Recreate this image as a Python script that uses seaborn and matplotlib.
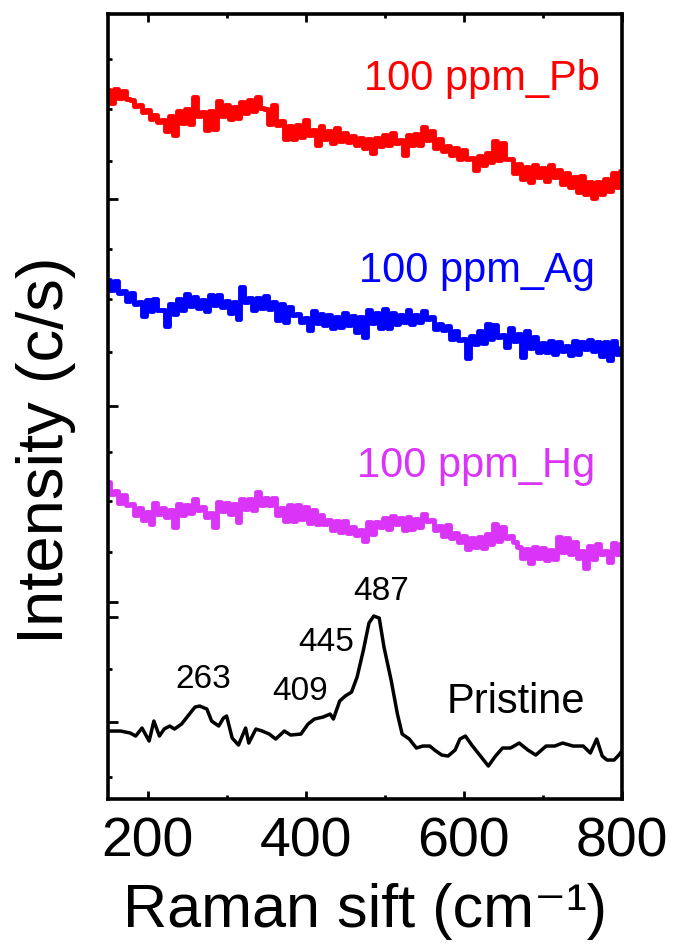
import numpy as np
import pandas as pd
import matplotlib
matplotlib.use("Agg")
import matplotlib.pyplot as plt
import seaborn as sns

# Raman shift grid (cm-1) for the three noisy spectra, 5 cm-1 step
shift = list(range(150, 801, 5))

# intensities (arbitrary c/s, stacked with offsets)
pb = [709, 696, 710, 701, 708, 700, 699, 693, 694, 687, 689, 680, 684, 677,
      679, 668, 683, 664, 688, 676, 690, 675, 702, 683, 687, 669, 688, 670,
      698, 683, 694, 680, 692, 681, 697, 686, 699, 688, 702, 691, 690, 675,
      694, 674, 678, 660, 673, 660, 674, 662, 679, 664, 669, 654, 673, 660,
      668, 656, 671, 658, 666, 657, 663, 654, 661, 651, 660, 646, 661, 653,
      664, 654, 666, 656, 659, 644, 664, 654, 665, 654, 672, 659, 668, 651,
      660, 648, 653, 644, 651, 640, 649, 640, 641, 629, 643, 634, 646, 637,
      658, 639, 656, 640, 640, 626, 635, 620, 632, 617, 634, 622, 631, 618,
      634, 622, 629, 615, 626, 612, 622, 607, 623, 605, 617, 601, 617, 605,
      620, 608, 626, 612, 628]

ag = [519, 509, 518, 506, 508, 498, 506, 495, 497, 483, 499, 488, 500, 489,
      489, 473, 495, 485, 500, 489, 505, 493, 502, 491, 499, 488, 504, 494,
      504, 492, 498, 486, 497, 480, 512, 497, 501, 489, 501, 491, 503, 490,
      497, 479, 495, 477, 492, 484, 485, 477, 481, 469, 488, 476, 485, 474,
      484, 471, 482, 472, 486, 474, 483, 467, 482, 462, 489, 476, 486, 471,
      490, 471, 486, 475, 484, 477, 489, 475, 484, 477, 488, 480, 482, 470,
      475, 469, 473, 460, 468, 459, 460, 441, 463, 455, 468, 456, 475, 460,
      474, 462, 464, 452, 471, 458, 465, 442, 468, 451, 462, 447, 456, 447,
      458, 445, 457, 448, 453, 444, 458, 445, 457, 450, 459, 448, 457, 443,
      457, 439, 458, 445, 451]

hg = [317, 305, 308, 296, 304, 294, 295, 284, 291, 279, 287, 275, 296, 285,
      291, 282, 289, 272, 295, 284, 294, 286, 300, 289, 292, 282, 286, 272,
      297, 288, 296, 285, 295, 277, 300, 290, 300, 289, 307, 294, 301, 294,
      301, 284, 291, 278, 294, 278, 294, 280, 292, 276, 289, 275, 284, 275,
      279, 269, 278, 267, 278, 266, 272, 264, 269, 258, 277, 265, 277, 272,
      281, 270, 283, 275, 281, 269, 282, 270, 280, 272, 285, 278, 279, 269,
      273, 263, 274, 261, 266, 257, 263, 250, 261, 252, 262, 251, 265, 255,
      275, 258, 272, 261, 263, 257, 252, 241, 250, 236, 252, 241, 251, 239,
      249, 240, 262, 247, 261, 245, 257, 241, 248, 231, 253, 240, 255, 245,
      248, 237, 256, 245, 255]

# pristine spectrum (smoother, read at irregular shifts)
pristine_x = [150, 157, 166, 178, 185, 193, 202, 208, 215, 221, 228, 234, 243,
              251, 260, 266, 275, 281, 290, 296, 300, 307, 315, 324, 328, 337,
              345, 354, 362, 373, 381, 394, 403, 411, 422, 431, 435, 443, 450,
              458, 465, 473, 480, 486, 493, 499, 508, 516, 522, 531, 540, 548,
              557, 563, 572, 580, 589, 595, 602, 610, 621, 631, 640, 649, 659,
              670, 681, 691, 704, 715, 725, 738, 751, 760, 768, 775, 781, 790,
              796, 800]
pristine_y = [68, 68, 68, 66, 63, 71, 58, 78, 63, 70, 73, 70, 75, 83, 92, 93,
              90, 78, 73, 81, 83, 61, 54, 71, 56, 70, 68, 65, 60, 68, 64, 65,
              75, 80, 82, 85, 80, 98, 103, 107, 122, 149, 176, 183, 181, 152,
              119, 85, 65, 60, 51, 53, 53, 49, 44, 43, 49, 60, 63, 54, 43, 33,
              43, 51, 51, 56, 49, 44, 53, 53, 56, 53, 53, 46, 60, 43, 39, 39,
              44, 48]

series_names = ["100 ppm_Pb", "100 ppm_Ag", "100 ppm_Hg", "Pristine"]
series_colors = ["#FF0000", "#0000FF", "#DA34F8", "#000000"]

peak_labels = ["263", "409", "445", "487"]
peak_pos = [(270, 112), (393, 100), (426, 149), (495, 200)]

y_major = [77, 182, 197, 393, 600]
y_minor = [22, 130, 247, 298, 347, 447, 500, 550, 638, 690, 740]


def main():
    sns.set_theme(style="ticks")
    plt.rcParams["font.family"] = ["Liberation Sans", "DejaVu Sans"]
    for k in ["text.color", "axes.labelcolor", "xtick.color", "ytick.color"]:
        plt.rcParams[k] = "black"

    fig = plt.figure(figsize=(6.73, 9.45), dpi=100)
    ax = fig.add_axes([0.1605, 0.1534, 0.7637, 0.8307])

    # the three spectra after metal exposure are noisy, drawn as steps
    noisy = [pb, ag, hg]
    for vals, col in zip(noisy, series_colors[:3]):
        sns.lineplot(x=shift, y=vals, color=col, lw=3.5, ax=ax,
                     drawstyle="steps-mid", estimator=None, sort=False)
    sns.lineplot(x=pristine_x, y=pristine_y, color="black", lw=2.5, ax=ax,
                 estimator=None, sort=False)

    label_pos = [(772, 710), (766, 518), (766, 323), (753, 87)]
    for (lx, ly), name, col in zip(label_pos, series_names, series_colors):
        ax.text(lx, ly, name, color=col, fontsize=30, ha="right", va="baseline")

    for txt, (px, py) in zip(peak_labels, peak_pos):
        ax.text(px, py, txt, color="black", fontsize=24, ha="center", va="baseline")

    ax.set_xlim(150, 800)
    ax.set_ylim(0, 785)
    ax.set_xticks([200, 400, 600, 800])
    ax.set_xticks([300, 500, 700], minor=True)
    ax.set_yticks(y_major)
    ax.set_yticks(y_minor, minor=True)
    ax.set_yticklabels([])

    ax.tick_params(axis="x", which="both", direction="in", top=True, width=2,
                   labelsize=40, pad=12)
    ax.tick_params(axis="x", which="major", length=6)
    ax.tick_params(axis="x", which="minor", length=3)
    ax.tick_params(axis="y", which="both", direction="in", left=True, right=False,
                   width=2)
    ax.tick_params(axis="y", which="major", length=7)
    ax.tick_params(axis="y", which="minor", length=3)

    for sp in ax.spines.values():
        sp.set_linewidth(2.6)
        sp.set_color("black")

    ax.set_xlabel("Raman sift (cm\u207b\u00b9)", fontsize=44, labelpad=10)
    ax.set_ylabel("Intensity (c/s)", fontsize=47)
    ax.yaxis.set_label_coords(-0.062, 0.445)

    fig.savefig("out.png", dpi=100)
    plt.close(fig)


if __name__ == "__main__":
    main()
